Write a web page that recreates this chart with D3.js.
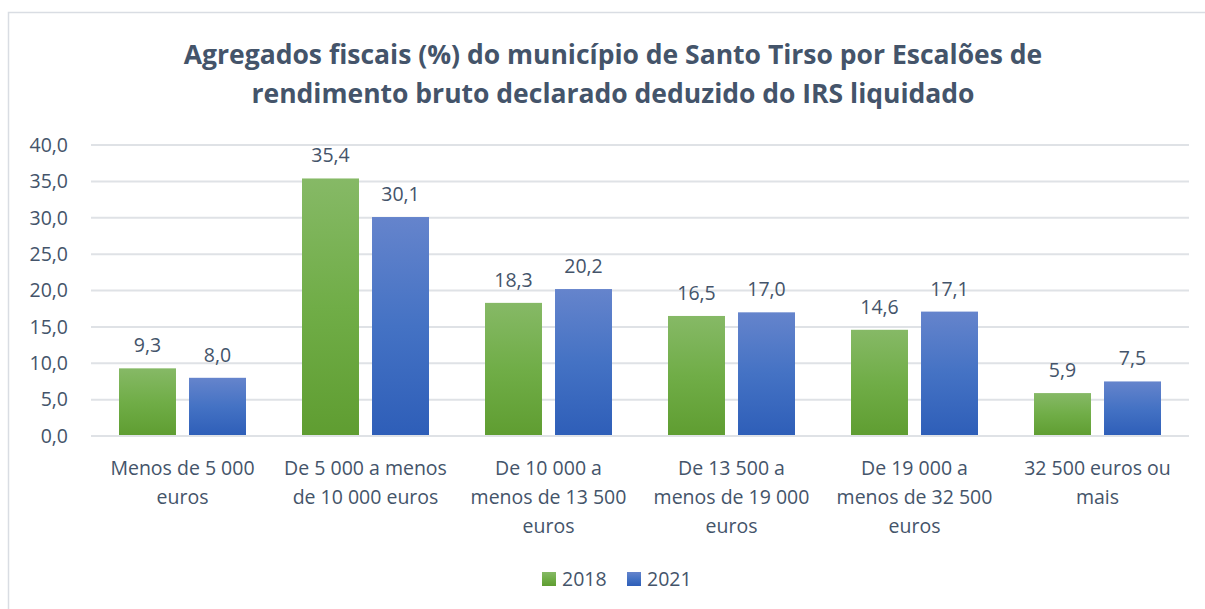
<!DOCTYPE html>
<html><head><meta charset="utf-8">
<script src="https://cdn.jsdelivr.net/npm/d3@7"></script>
<style>
body{margin:0;background:#fff;}
svg{display:block;}
text{font-family:"Open Sans","Noto Sans",sans-serif;}
</style></head>
<body>
<svg id="chart" width="1205" height="609"></svg>
<script>
const titleLines = ["Agregados fiscais (%) do município de Santo Tirso por Escalões de", "rendimento bruto declarado deduzido do IRS liquidado"];
const categories = ["Menos de 5 000 euros", "De 5 000 a menos de 10 000 euros", "De 10 000 a menos de 13 500 euros", "De 13 500 a menos de 19 000 euros", "De 19 000 a menos de 32 500 euros", "32 500 euros ou mais"];
const categoryLines = [["Menos de 5 000","euros"],["De 5 000 a menos","de 10 000 euros"],["De 10 000 a","menos de 13 500","euros"],["De 13 500 a","menos de 19 000","euros"],["De 19 000 a","menos de 32 500","euros"],["32 500 euros ou","mais"]];
const seriesNames = ["2018","2021"];
const values2018 = [9.3, 35.4, 18.3, 16.5, 14.6, 5.9];
const values2021 = [8.0, 30.1, 20.2, 17.0, 17.1, 7.5];
const yTicks = [0,5,10,15,20,25,30,35,40];

const textColor = "#44546a";
const fs = "19.5px";
const fmt = v => d3.format(".1f")(v).replace(".", ",");

const svg = d3.select("#chart");
const defs = svg.append("defs");
const gradG = defs.append("linearGradient").attr("id","gG").attr("x1",0).attr("y1",0).attr("x2",0).attr("y2",1);
gradG.append("stop").attr("offset","0%").attr("stop-color","#86b966");
gradG.append("stop").attr("offset","50%").attr("stop-color","#70ad47");
gradG.append("stop").attr("offset","100%").attr("stop-color","#5f9d31");
const gradB = defs.append("linearGradient").attr("id","gB").attr("x1",0).attr("y1",0).attr("x2",0).attr("y2",1);
gradB.append("stop").attr("offset","0%").attr("stop-color","#6584cc");
gradB.append("stop").attr("offset","50%").attr("stop-color","#4472c4");
gradB.append("stop").attr("offset","100%").attr("stop-color","#2e5eb8");
const fills = ["url(#gG)","url(#gB)"];

// chart border
svg.append("rect").attr("x",8.5).attr("y",12.5).attr("width",1205).attr("height",620)
  .attr("fill","none").attr("stroke","#d9dde3").attr("stroke-width",1.5);

const pLeft = 91, pRight = 1189, pTop = 145, pBottom = 436;
const x = d3.scaleBand().domain(categories).range([pLeft,pRight]).paddingInner(0).paddingOuter(0);
const xs = d3.scaleBand().domain(seriesNames).range([0,x.bandwidth()]).paddingInner(0.186).paddingOuter(0.4);
const y = d3.scaleLinear().domain([0,40]).range([pBottom,pTop]);

// gridlines
svg.append("g").selectAll("line").data(yTicks).join("line")
  .attr("x1",pLeft).attr("x2",pRight).attr("y1",d=>y(d)).attr("y2",d=>y(d))
  .attr("stroke","#dfe2e6").attr("stroke-width",2);

// y axis labels
const yAxis = d3.axisLeft(y).tickValues(yTicks).tickFormat(fmt).tickSize(0).tickPadding(0);
const ya = svg.append("g").attr("transform",`translate(68,0)`).call(yAxis);
ya.select(".domain").remove();
ya.selectAll("text").attr("fill",textColor).style("font-size",fs).style("font-family",'"Open Sans",sans-serif');

// bars
const data = categories.map((c,i)=>({c, vals:[values2018[i], values2021[i]]}));
const groups = svg.append("g").selectAll("g").data(data).join("g")
  .attr("transform",d=>`translate(${x(d.c)},0)`);
groups.selectAll("rect").data(d=>d.vals.map((v,j)=>({v,s:seriesNames[j],j}))).join("rect")
  .attr("x",d=>xs(d.s)).attr("width",xs.bandwidth())
  .attr("y",d=>y(d.v)).attr("height",d=>y(0)-y(d.v))
  .attr("fill",d=>fills[d.j]);
groups.selectAll("text.lbl").data(d=>d.vals.map((v,j)=>({v,s:seriesNames[j],j}))).join("text")
  .attr("class","lbl")
  .attr("x",d=>xs(d.s)+xs.bandwidth()/2).attr("y",d=>y(d.v)-16)
  .attr("text-anchor","middle").attr("fill",textColor).style("font-size",fs)
  .text(d=>fmt(d.v));

// baseline
svg.append("line").attr("x1",pLeft).attr("x2",pRight).attr("y1",y(0)).attr("y2",y(0))
  .attr("stroke","#dfe2e6").attr("stroke-width",2);

// category labels
categories.forEach((c,i)=>{
  const t = svg.append("text").attr("x",x(c)+x.bandwidth()/2).attr("y",475)
    .attr("text-anchor","middle").attr("fill",textColor).style("font-size",fs);
  categoryLines[i].forEach((ln,k)=>{
    t.append("tspan").attr("x",x(c)+x.bandwidth()/2).attr("y",475+k*29).text(ln);
  });
});

// title
titleLines.forEach((ln,k)=>{
  svg.append("text").attr("x",613).attr("y",64+k*39).attr("text-anchor","middle")
    .attr("fill",textColor).style("font-size","26.5px").style("font-weight","bold").text(ln);
});

// legend
const legend = svg.append("g");
const legX = [542, 627];
seriesNames.forEach((s,i)=>{
  legend.append("rect").attr("x",legX[i]).attr("y",572).attr("width",14).attr("height",14).attr("fill",fills[i]);
  legend.append("text").attr("x",legX[i]+20).attr("y",586).attr("fill",textColor).style("font-size",fs).text(s);
});
</script>
</body></html>
